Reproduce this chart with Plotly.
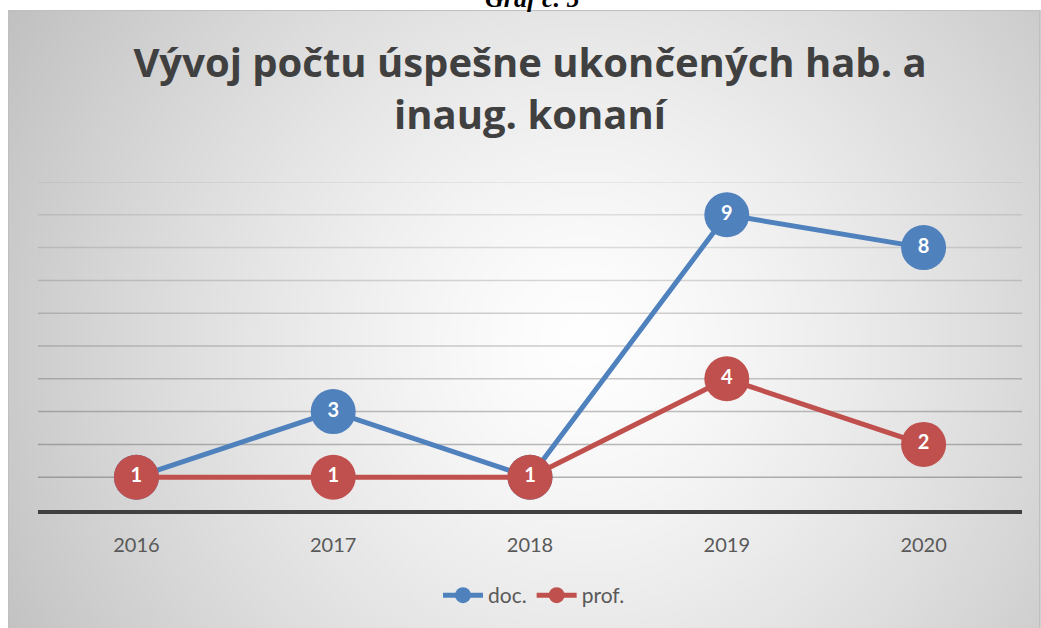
import base64
import struct
import zlib

import numpy as np
import plotly.graph_objects as go

years = ["2016", "2017", "2018", "2019", "2020"]
doc = [1, 3, 1, 9, 8]
prof = [1, 1, 1, 4, 2]
grid_values = [1, 2, 3, 4, 5, 6, 7, 8, 9, 10]

W, H = 1041, 628
ML, MR, MT, MB = 38, 19, 182, 116
PW, PH = W - ML - MR, H - MT - MB


def px_x(px):
    return (px - ML) / PW


def px_y(py):
    return (H - MB - py) / PH


def gray_png(arr):
    # tiny grayscale png encoder, no PIL needed
    h, w = arr.shape
    raw = b"".join(b"\x00" + arr[i].tobytes() for i in range(h))

    def chunk(tag, data):
        c = struct.pack(">I", len(data)) + tag + data
        return c + struct.pack(">I", zlib.crc32(tag + data) & 0xFFFFFFFF)

    png = b"\x89PNG\r\n\x1a\n"
    png += chunk(b"IHDR", struct.pack(">IIBBBBB", w, h, 8, 0, 0, 0, 0))
    png += chunk(b"IDAT", zlib.compress(raw, 9))
    png += chunk(b"IEND", b"")
    return "data:image/png;base64," + base64.b64encode(png).decode()


# radial background: white in the middle, grey toward the corners
# (runs past the right/bottom edge so the stretched image has no soft border)
bx0, by0 = 8, 9
bw, bh = W + 16 - bx0, H + 16 - by0
sc = 4
gy, gx = np.mgrid[0:bh // sc, 0:bw // sc]
dist = np.hypot(gx * sc + bx0 - 580, gy * sc + by0 - 340) / 660
shade = 255 - 62 * np.clip(dist, 0, 1) ** 1.3
bg_uri = gray_png(shade.astype(np.uint8))

blue = "#4F81BD"
red = "#C0504D"
font = "Lato, 'Open Sans', sans-serif"

fig = go.Figure()
for name, vals, col in [("doc.", doc, blue), ("prof.", prof, red)]:
    fig.add_trace(go.Scatter(
        x=years, y=vals, name=name,
        mode="lines+markers+text",
        line=dict(color=col, width=5),
        marker=dict(color=col, size=45),
        text=[str(v) for v in vals],
        textposition="middle center",
        textfont=dict(color="white", size=20, family=font, weight="bold"),
        cliponaxis=False,
    ))

# gridlines fade out toward the top like in the original
shapes = []
for v in grid_values:
    a = 0.45 - 0.33 * (v - 1) / 9
    shapes.append(dict(
        type="line", xref="paper", yref="y", x0=0, x1=1, y0=v, y1=v,
        line=dict(color=f"rgba(90,90,90,{a:.2f})", width=1.5), layer="below",
    ))
# thin frame on the left, top and right of the chart box
for x0, y0, x1, y1 in [(8.5, 9.5, 8.5, 640), (8.5, 9.5, 1039.5, 9.5),
                       (1039.5, 9.5, 1039.5, 640)]:
    shapes.append(dict(
        type="line", xref="paper", yref="paper",
        x0=px_x(x0), y0=px_y(y0), x1=px_x(x1), y1=px_y(y1),
        line=dict(color="#bfbfbf", width=1), layer="below",
    ))

fig.update_layout(
    width=W, height=H,
    margin=dict(l=ML, r=MR, t=MT, b=MB),
    paper_bgcolor="white",
    plot_bgcolor="rgba(0,0,0,0)",
    font=dict(family=font, color="#595959"),
    title=dict(
        text="Vývoj počtu úspešne ukončených hab. a<br>inaug. konaní",
        x=0.5, xref="paper", xanchor="center",
        y=1 - 77 / H, yref="container", yanchor="middle",
        font=dict(size=40, color="#404040", family="'Open Sans', sans-serif",
                  weight="bold"),
    ),
    xaxis=dict(
        type="category", range=[-0.5, 4.5],
        showline=True, linecolor="#404040", linewidth=3.5,
        showgrid=False, ticks="", ticklabelstandoff=14,
        tickfont=dict(size=20, color="#595959"),
        fixedrange=True,
    ),
    yaxis=dict(
        range=[0, 10], showgrid=False, zeroline=False,
        showticklabels=False, showline=False, fixedrange=True,
    ),
    legend=dict(
        orientation="h", x=px_x(534), xanchor="center",
        y=px_y(598), yanchor="middle",
        font=dict(size=21, color="#595959"),
        bgcolor="rgba(0,0,0,0)", itemwidth=40,
    ),
    showlegend=True,
    shapes=shapes,
    images=[dict(
        source=bg_uri, xref="paper", yref="paper",
        x=px_x(bx0), y=px_y(by0), sizex=bw / PW, sizey=bh / PH,
        xanchor="left", yanchor="top", sizing="stretch", layer="below",
    )],
    annotations=[dict(
        text="<i><b>Graf č. 5</b></i>", xref="paper", yref="paper",
        x=px_x(532), y=px_y(9), xanchor="center", yanchor="bottom",
        yshift=-5, showarrow=False,
        font=dict(family="'Liberation Serif', serif", size=26, color="black"),
    )],
)

# drop the default page margin so the figure sits at the top-left corner
fig.write_html(
    "out.html",
    config={"displayModeBar": False},
    post_script="document.body.style.margin='0';",
)
